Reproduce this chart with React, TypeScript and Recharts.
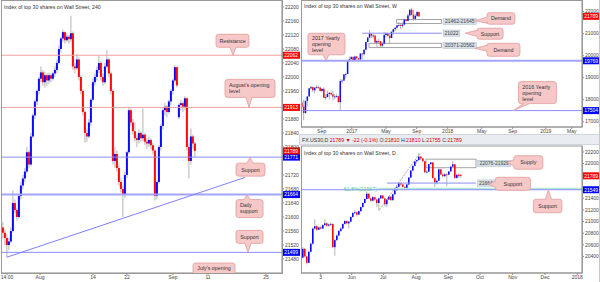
import React from 'react'
import {
  ComposedChart, Bar, XAxis, YAxis, ReferenceLine, ReferenceArea, ReferenceDot,
} from 'recharts'

const FONT = '"Liberation Sans", Arial, sans-serif'
const UP = '#0a0aff'
const DOWN = '#ff0a0a'
const WICK = '#a0a0a0'
const RED_LINE = '#f0a0a0'
const BLUE_LINE = '#8c8cff'
const BLUE_THICK = '#a4a4ff'
const TAG_RED = '#ff0000'
const TAG_BLUE = '#0000ff'
const AXIS = '#8a8a8a'
const TEXT = '#333'

// ---------- 240 min panel: [open, high, low, close] ----------
const h4Candles = [
  [21570, 21585, 21540, 21555], [21555, 21565, 21520, 21540], [21540, 21550, 21485, 21520],
  [21520, 21540, 21505, 21530], [21530, 21570, 21525, 21560], [21560, 21676, 21555, 21640],
  [21640, 21650, 21610, 21620], [21620, 21625, 21590, 21600], [21600, 21665, 21595, 21660],
  [21660, 21700, 21650, 21690], [21690, 21720, 21680, 21710], [21710, 21740, 21700, 21730],
  [21730, 21800, 21725, 21785], [21785, 21790, 21740, 21750], [21750, 21840, 21745, 21830],
  [21830, 21895, 21825, 21890], [21890, 21935, 21880, 21930], [21930, 21965, 21920, 21960],
  [21960, 22000, 21950, 21995], [21995, 22030, 21985, 22013], [22013, 22020, 21975, 21985],
  [21985, 22015, 21970, 22005], [22005, 22010, 21975, 21990], [21990, 22012, 21980, 22005],
  [22005, 22010, 21985, 21995], [21995, 22015, 21990, 22010], [22010, 22030, 22000, 22020],
  [22020, 22050, 22010, 22040], [22040, 22090, 22035, 22080], [22080, 22115, 22070, 22110],
  [22110, 22135, 22100, 22128], [22128, 22130, 22095, 22105], [22105, 22125, 22100, 22115],
  [22115, 22120, 22095, 22108], [22108, 22175, 22100, 22125], [22125, 22130, 22020, 22030],
  [22030, 22040, 22010, 22025], [22025, 22065, 22020, 22050], [22050, 22055, 21990, 22000],
  [22000, 22005, 21950, 21960], [21960, 21965, 21890, 21900], [21900, 21905, 21813, 21840],
  [21840, 21850, 21815, 21830], [21830, 21880, 21825, 21870], [21870, 21940, 21860, 21935],
  [21935, 21995, 21930, 21985], [21985, 22010, 21975, 22000], [22000, 22030, 21990, 22020],
  [22020, 22062, 22010, 22040], [22040, 22045, 21990, 22000], [22000, 22010, 21975, 21985],
  [21985, 22040, 21980, 22030], [22030, 22076, 22025, 22050], [22050, 22055, 22000, 22010],
  [22010, 22015, 21950, 21960], [21960, 21965, 21750, 21760], [21760, 21800, 21740, 21780],
  [21780, 21790, 21730, 21740], [21740, 21750, 21690, 21700], [21700, 21710, 21670, 21680],
  [21680, 21690, 21600, 21665], [21665, 21730, 21655, 21720], [21720, 21790, 21710, 21785],
  [21785, 21915, 21780, 21905], [21905, 21910, 21860, 21870], [21870, 21880, 21835, 21845],
  [21845, 21870, 21815, 21825], [21825, 21835, 21800, 21820], [21820, 21850, 21810, 21840],
  [21840, 21845, 21815, 21825], [21825, 21910, 21815, 21835], [21835, 21840, 21805, 21815],
  [21815, 21825, 21795, 21810], [21810, 21830, 21800, 21820], [21820, 21825, 21795, 21805],
  [21805, 21812, 21780, 21790], [21790, 21795, 21647, 21660], [21660, 21705, 21650, 21700],
  [21700, 21805, 21695, 21800], [21800, 21865, 21790, 21860], [21860, 21910, 21850, 21905],
  [21905, 21925, 21890, 21915], [21915, 21920, 21885, 21900], [21900, 21935, 21895, 21930],
  [21930, 21965, 21920, 21960], [21960, 21995, 21950, 21990], [21990, 22033, 21985, 22028],
  [22028, 22030, 21970, 21976], [21885, 21925, 21880, 21920], [21920, 21935, 21905, 21925],
  [21925, 21930, 21900, 21915], [21915, 21945, 21905, 21939], [21939, 21942, 21790, 21800],
  [21800, 21810, 21710, 21760], [21760, 21853, 21750, 21830], [21830, 21835, 21795, 21810],
  [21810, 21815, 21770, 21789],
]
const h4TickPos = [2, 18.5, 45, 62, 85, 102.5, 131.5]
const h4TickLabels = ['14:00', 'Aug', '14', '22', 'Sep', '11', '25']
// labels hidden behind the price tags (21760, 21920) are left out, as on the reference
const h4PriceTicks = [
  21480, 21520, 21560, 21600, 21640, 21680, 21720, 21800, 21840,
  21880, 21960, 22000, 22040, 22080, 22120, 22160, 22200,
]

// ---------- weekly panel ----------
const weeklyCandles = [
  [17860, 17950, 17600, 17675], [17680, 18000, 17063, 17400], [17400, 17950, 17350, 17949],
  [17950, 18150, 17700, 18147], [18150, 18537, 18140, 18516], [18516, 18622, 18490, 18571],
  [18571, 18600, 18350, 18432], [18432, 18560, 18280, 18543], [18543, 18668, 18500, 18576],
  [18576, 18630, 18480, 18552], [18552, 18590, 18380, 18395], [18395, 18500, 18360, 18492],
  [18492, 18560, 18080, 18085], [18085, 18250, 17990, 18124], [18124, 18400, 18100, 18261],
  [18261, 18350, 18000, 18308], [18308, 18370, 18180, 18240], [18240, 18400, 17960, 18138],
  [18138, 18260, 18020, 18145], [18145, 18260, 18090, 18161], [18161, 18190, 17880, 17888],
  [17888, 18934, 17500, 18847], [18847, 18935, 18730, 18867], [18867, 19160, 18860, 19152],
  [19152, 19225, 18970, 19171], [19171, 19775, 19160, 19757], [19757, 19966, 19720, 19843],
  [19843, 19987, 19820, 19934], [19934, 19980, 19720, 19763], [19763, 19999, 19760, 19964],
  [19964, 19973, 19820, 19885], [19885, 19890, 19730, 19827], [19827, 20126, 19800, 20094],
  [20094, 20125, 19830, 20071], [20071, 20298, 20000, 20269], [20269, 20640, 20260, 20624],
  [20624, 20840, 20600, 20822], [20822, 21169, 20780, 21005], [21005, 21010, 20800, 20903],
  [20903, 21000, 20780, 20915], [20915, 20960, 20550, 20597], [20597, 20725, 20410, 20663],
  [20663, 20780, 20550, 20656], [20656, 20660, 20400, 20453], [20453, 20600, 20380, 20548],
  [20548, 21070, 20540, 20941], [20941, 21050, 20850, 21007], [21007, 21030, 20880, 20897],
  [20897, 21000, 20550, 20805], [20805, 21120, 20790, 21080], [21080, 21225, 20950, 21206],
  [21206, 21305, 21120, 21272], [21272, 21392, 21190, 21384], [21384, 21535, 21340, 21395],
  [21395, 21470, 21200, 21350], [21350, 21520, 21270, 21414], [21414, 21681, 21380, 21638],
  [21638, 21681, 21560, 21580], [21580, 21929, 21570, 21830], [21830, 22093, 21800, 22092],
  [22092, 22179, 21830, 21858], [21858, 22084, 21600, 21674], [21674, 21900, 21600, 21813],
  [21813, 22035, 21750, 21988], [21988, 21990, 21755, 21789],
]
const weeklyTickPos = [10.8, 27.2, 45.9, 62.7, 79.6, 98.2, 115.1, 133.2, 147.4]
const weeklyTickLabels = ['Sep', '2017', 'May', 'Sep', '2018', 'May', 'Sep', '2019', 'May']
const weeklyPriceTicks = [17000, 18000, 19000, 20000, 21000, 22000]

// ---------- daily panel ----------
const dailyCandles = [
  [20380, 20560, 20360, 20530], [20530, 20545, 20380, 20400], [20400, 20420, 20264, 20290],
  [20290, 20500, 20280, 20480], [20480, 20640, 20470, 20620], [20620, 20900, 20600, 20880],
  [20880, 21040, 20860, 20920], [20920, 20940, 20840, 20860], [20860, 20920, 20850, 20900],
  [20900, 20930, 20860, 20880], [20880, 20960, 20870, 20940], [20940, 21040, 20920, 20970],
  [20970, 20990, 20900, 20930], [20930, 20970, 20910, 20950], [20950, 20990, 20930, 20960],
  [20960, 20965, 20540, 20560], [20560, 20700, 20410, 20680], [20680, 20780, 20670, 20760],
  [20760, 20850, 20750, 20840], [20840, 20900, 20820, 20880], [20880, 20970, 20870, 20960],
  [20960, 21030, 20950, 21010], [21010, 21020, 20950, 20970], [20970, 21010, 20880, 21000],
  [21000, 21090, 20990, 21080], [21080, 21160, 21070, 21150], [21150, 21200, 21130, 21160],
  [21160, 21170, 21090, 21120], [21120, 21190, 21110, 21180], [21180, 21260, 21170, 21250],
  [21250, 21330, 21240, 21320], [21320, 21400, 21310, 21390], [21390, 21520, 21380, 21480],
  [21480, 21490, 21390, 21400], [21400, 21420, 21340, 21360], [21360, 21440, 21350, 21420],
  [21420, 21430, 21360, 21380], [21380, 21400, 21250, 21320], [21320, 21410, 21195, 21400],
  [21400, 21460, 21390, 21450], [21450, 21460, 21390, 21400], [21400, 21410, 21260, 21300],
  [21300, 21390, 21250, 21380], [21380, 21440, 21370, 21430], [21430, 21440, 21360, 21370],
  [21370, 21480, 21360, 21470], [21470, 21550, 21460, 21540], [21540, 21610, 21530, 21600],
  [21600, 21680, 21590, 21660], [21660, 21670, 21620, 21640], [21640, 21650, 21590, 21600],
  [21600, 21610, 21540, 21560], [21560, 21650, 21550, 21640], [21640, 21770, 21630, 21760],
  [21760, 21890, 21750, 21880], [21880, 21970, 21870, 21960], [21960, 22050, 21950, 22040],
  [22040, 22070, 22000, 22060], [22060, 22179, 22050, 22120], [22120, 22130, 22060, 22090],
  [22090, 22100, 22020, 22040], [22040, 22045, 21840, 21850], [21850, 21890, 21830, 21860],
  [21860, 22000, 21850, 21990], [21990, 22030, 21980, 22020], [22020, 22025, 21740, 21750],
  [21750, 21760, 21600, 21675], [21675, 21720, 21640, 21705], [21705, 21920, 21700, 21900],
  [21900, 21910, 21800, 21812], [21812, 21830, 21760, 21783], [21783, 21840, 21770, 21813],
  [21813, 21830, 21610, 21808], [21808, 21870, 21800, 21865], [21865, 21955, 21860, 21948],
  [21948, 22040, 21940, 21987], [21987, 21990, 21740, 21753], [21753, 21820, 21740, 21807],
  [21807, 21830, 21755, 21784], [21810, 21810, 21755, 21789],
]
const dailyTickPos = [8.85, 24.35, 40.15, 56.5, 72.65, 88.5, 104.85, 121, 137.15]
const dailyTickLabels = ['3', 'Jun', 'Jul', 'Aug', 'Sep', 'Oct', 'Nov', 'Dec', '2018']
// 21600 and 21800 sit behind the price tags on the reference
const dailyPriceTicks = [20400, 20600, 20800, 21000, 21200, 21400, 22000, 22200]

// ---------- annotations ----------
type Callout = {
  x: number; y: number; lines: string[]
  box: number[]; side: 'up' | 'down' | 'left' | 'open'
  align?: 'start' | 'middle'; base?: number
}

const h4Callouts: Callout[] = [
  { x: 115, y: 22062, lines: ['Resistance'], box: [-17, -21, 16, -8], side: 'down' },
  { x: 123, y: 21913, lines: ["August's opening", 'level'], box: [-24, -28, 26, -10], side: 'down', align: 'start' },
  { x: 123.5, y: 21771, lines: ['Support'], box: [-14, 6, 15, 19], side: 'up' },
  { x: 122, y: 21664, lines: ['Daily', 'support'], box: [-11, 5, 16, 23], side: 'up', align: 'start' },
  { x: 122.5, y: 21499, lines: ['Support'], box: [-12, -22, 15, -9], side: 'down' },
  { x: 105.5, y: 21440, lines: ["July's opening"], box: [-21, -10, 21, 0], side: 'open' },
]
const weeklyCallouts: Callout[] = [
  { x: 94.5, y: 21591, lines: ['Demand'], box: [12, -8, 40, 3.5], side: 'left' },
  { x: 89.1, y: 21022, lines: ['Support'], box: [12, -5, 38, 6], side: 'left' },
  { x: 94.5, y: 20336, lines: ['Demand'], box: [12, -5, 45, 8], side: 'left' },
  { x: 13.1, y: 19769, lines: ['2017 Yearly', 'opening', 'level'], box: [-18, -27.5, 19, -6], side: 'down', align: 'start' },
  { x: 115.5, y: 17504, lines: ['2016 Yearly', 'opening', 'level'], box: [5, -29, 43, -7], side: 'down', align: 'start', base: 8 },
]
const dailyCallouts: Callout[] = [
  { x: 101.9, y: 22015, lines: ['Supply'], box: [7, -7, 36, 6.5], side: 'left' },
  { x: 92.7, y: 21643, lines: ['Support'], box: [7, -7, 42, 6], side: 'left' },
  { x: 122.7, y: 21549, lines: ['Support'], box: [-15, 9.5, 13.5, 23], side: 'up' },
]

const toRows = (candles: number[][]) =>
  candles.map(([o, h, l, c], i) => ({ i, o, h, l, c, range: [l, h] }))

const h4Rows = toRows(h4Candles)
const weeklyRows = toRows(weeklyCandles)
const dailyRows = toRows(dailyCandles)

const TICK = { fontSize: 5, fill: '#444', fontFamily: FONT }

function candleShape(bodyWidth: number) {
  return (p: any) => {
    const { x, y, width, height, payload } = p
    if (!payload) return <g />
    const { o, h, l, c } = payload
    const top = Math.min(y, y + height)
    const span = Math.abs(height)
    const py = (v: number) => (h === l ? top : top + ((h - v) / (h - l)) * span)
    const cx = x + width / 2
    const bTop = py(Math.max(o, c))
    const bBot = py(Math.min(o, c))
    return (
      <g>
        <line x1={cx} x2={cx} y1={top} y2={top + span} stroke={WICK} strokeWidth={0.8} />
        <rect x={cx - bodyWidth / 2} y={bTop} width={bodyWidth}
          height={Math.max(bBot - bTop, 0.8)} fill={c >= o ? UP : DOWN} />
      </g>
    )
  }
}

function priceTag(text: string, color: string) {
  return (p: any) => {
    const vb = p.viewBox
    const x = vb.x + vb.width
    const y = vb.y
    return (
      <g>
        <rect x={x + 0.5} y={y - 3.5} width={17.5} height={7} fill={color} />
        <text x={x + 9.2} y={y + 1.8} textAnchor="middle" fontSize={5} fill="#fff"
          fontFamily={FONT}>{text}</text>
      </g>
    )
  }
}

function sideTag(text: string) {
  return (p: any) => {
    const vb = p.viewBox
    const x = vb.x + vb.width + 1.5
    const y = vb.y + vb.height / 2
    const w = text.length * 2.75 + 3
    return (
      <g>
        <rect x={x} y={y - 3.2} width={w} height={6.4} fill="#d6dfe9" stroke="#b4c2d0" strokeWidth={0.5} />
        <text x={x + w / 2} y={y + 1.8} textAnchor="middle" fontSize={5} fill="#444"
          fontFamily={FONT}>{text}</text>
      </g>
    )
  }
}

const clamp = (v: number, a: number, b: number) => Math.max(a, Math.min(b, v))

function calloutShape(co: Callout) {
  return (p: any) => {
    const tx = p.cx
    const ty = p.cy
    const [dx1, dy1, dx2, dy2] = co.box
    const L = tx + dx1, T = ty + dy1, R = tx + dx2, B = ty + dy2
    const r = 2.5, w = 3
    let d: string
    if (co.side === 'open') {
      d = `M${L},${B} V${T + r} Q${L},${T} ${L + r},${T} H${R - r} Q${R},${T} ${R},${T + r} V${B}`
    } else {
      const bx = co.base != null ? L + co.base : clamp(tx, L + 5, R - 5)
      const by = clamp(ty, T + 4, B - 4)
      d = `M${L + r},${T}`
      if (co.side === 'up') d += ` H${bx - w} L${tx},${ty} L${bx + w},${T}`
      d += ` H${R - r} Q${R},${T} ${R},${T + r} V${B - r} Q${R},${B} ${R - r},${B}`
      if (co.side === 'down') d += ` H${bx + w} L${tx},${ty} L${bx - w},${B}`
      d += ` H${L + r} Q${L},${B} ${L},${B - r}`
      if (co.side === 'left') d += ` V${by + w} L${tx},${ty} L${L},${by - w}`
      d += ` V${T + r} Q${L},${T} ${L + r},${T} Z`
    }
    const lh = 6
    const n = co.lines.length
    const midY = co.side === 'open' ? T + 5 : (T + B) / 2
    const y0 = midY - ((n - 1) * lh) / 2 + 1.9
    const start = co.align === 'start'
    return (
      <g>
        <path d={d} fill="#f6c8c8" stroke="#e29a9a" strokeWidth={0.8} />
        {co.lines.map((s, k) => (
          <text key={k} x={start ? L + 4 : (L + R) / 2} y={y0 + k * lh}
            textAnchor={start ? 'start' : 'middle'} fontSize={5.3} fill={TEXT}
            fontFamily={FONT}>{s}</text>
        ))}
      </g>
    )
  }
}

function renderCallouts(list: Callout[], prefix: string) {
  return list.map((co, k) => (
    <ReferenceDot key={prefix + k} x={co.x} y={co.y} r={1} ifOverflow="visible"
      shape={calloutShape(co)} />
  ))
}

const fmt = (pos: number[], labels: string[]) => (v: number) => labels[pos.indexOf(v)] ?? ''

export default function App() {
  return (
    <div style={{ position: 'fixed', left: 0, top: 0, width: 600, height: 282, background: '#fff', overflow: 'hidden' }}>
      {/* 240 min */}
      <div style={{ position: 'absolute', left: 0, top: 0 }}>
        <ComposedChart width={300} height={282} data={h4Rows} margin={{ top: 1, right: 0, bottom: 0, left: 1 }}>
          <XAxis type="number" dataKey="i" domain={[-1, 139.5]} allowDataOverflow ticks={h4TickPos}
            interval={0} tickFormatter={fmt(h4TickPos, h4TickLabels)} height={9} tickSize={2}
            tickMargin={0} tick={TICK} axisLine={{ stroke: AXIS }} tickLine={{ stroke: AXIS }} />
          <YAxis orientation="right" type="number" width={18} domain={[21440, 22217]} allowDataOverflow
            ticks={h4PriceTicks} interval={0} tickSize={2} tickMargin={1} tick={TICK}
            axisLine={{ stroke: AXIS }} tickLine={{ stroke: AXIS }} />
          <ReferenceLine y={22062} stroke={RED_LINE} label={priceTag('22062', TAG_RED)} />
          <ReferenceLine y={21913} stroke={RED_LINE} label={priceTag('21913', TAG_RED)} />
          <ReferenceLine y={21771} stroke={BLUE_LINE} label={priceTag('21771', TAG_BLUE)} />
          <ReferenceLine y={21664} stroke={BLUE_THICK} strokeWidth={2} label={priceTag('21664', TAG_BLUE)} />
          <ReferenceLine y={21499} stroke={BLUE_LINE} label={priceTag('21499', TAG_BLUE)} />
          <ReferenceLine segment={[{ x: 1.85, y: 21485 }, { x: 121, y: 21713 }]} stroke="#7f7fff" ifOverflow="visible" />
          <Bar dataKey="range" isAnimationActive={false} barSize={2} shape={candleShape(2)} />
          <ReferenceLine y={21789} stroke="none" label={priceTag('21789', TAG_RED)} />
          {renderCallouts(h4Callouts, 'h4')}
        </ComposedChart>
      </div>

      {/* weekly */}
      <div style={{ position: 'absolute', left: 300, top: 0 }}>
        <ComposedChart width={300} height={135} data={weeklyRows} margin={{ top: 1, right: 0, bottom: 0, left: 1 }}>
          <XAxis type="number" dataKey="i" domain={[-0.55, 153]} allowDataOverflow ticks={weeklyTickPos}
            interval={0} tickFormatter={fmt(weeklyTickPos, weeklyTickLabels)} height={8} tickSize={2}
            tickMargin={0} tick={TICK} axisLine={{ stroke: AXIS }} tickLine={{ stroke: AXIS }} />
          <YAxis orientation="right" type="number" width={18} domain={[16759, 22486]} allowDataOverflow
            ticks={weeklyPriceTicks} interval={0} tickSize={2} tickMargin={1} tick={TICK}
            axisLine={{ stroke: AXIS }} tickLine={{ stroke: AXIS }} />
          <ReferenceLine y={19769} stroke={BLUE_THICK} strokeWidth={2} label={priceTag('19769', TAG_BLUE)} />
          <ReferenceLine y={17504} stroke={BLUE_LINE} label={priceTag('17504', TAG_BLUE)} />
          <ReferenceArea x1={51.7} x2={76.3} y1={21462} y2={21645} fill="#fff" fillOpacity={1}
            stroke="#8c8c8c" strokeWidth={0.8} ifOverflow="visible" label={sideTag('21462-21645')} />
          <ReferenceArea x1={36.6} x2={76.3} y1={20371} y2={20562} fill="#fff" fillOpacity={1}
            stroke="#8c8c8c" strokeWidth={0.8} ifOverflow="visible" label={sideTag('20371-20562')} />
          <ReferenceLine segment={[{ x: 32.8, y: 21022 }, { x: 76.3, y: 21022 }]} stroke={BLUE_LINE}
            ifOverflow="visible" label={sideTag('21022')} />
          <Bar dataKey="range" isAnimationActive={false} barSize={1.5} shape={candleShape(1.5)} />
          <ReferenceLine y={21789} stroke="none" label={priceTag('21789', TAG_RED)} />
          {renderCallouts(weeklyCallouts, 'w')}
        </ComposedChart>
      </div>

      {/* daily */}
      <div style={{ position: 'absolute', left: 300, top: 145 }}>
        <ComposedChart width={300} height={137} data={dailyRows} margin={{ top: 1, right: 0, bottom: 0, left: 1 }}>
          <XAxis type="number" dataKey="i" domain={[-1, 139.5]} allowDataOverflow ticks={dailyTickPos}
            interval={0} tickFormatter={fmt(dailyTickPos, dailyTickLabels)} height={9} tickSize={2}
            tickMargin={0} tick={TICK} axisLine={{ stroke: AXIS }} tickLine={{ stroke: AXIS }} />
          <YAxis orientation="right" type="number" width={18} domain={[20114, 22303]} allowDataOverflow
            ticks={dailyPriceTicks} interval={0} tickSize={2} tickMargin={1} tick={TICK}
            axisLine={{ stroke: AXIS }} tickLine={{ stroke: AXIS }} />
          <ReferenceLine segment={[{ x: 37.5, y: 21567 }, { x: 139.5, y: 21567 }]} stroke="#b4ead2"
            strokeWidth={2} ifOverflow="visible" />
          <ReferenceLine y={21549} stroke={BLUE_LINE} label={priceTag('21549', TAG_BLUE)} />
          <ReferenceArea x1={61.5} x2={86.5} y1={21929} y2={22076} fill="#fff" fillOpacity={1}
            stroke="#8c8c8c" strokeWidth={0.8} ifOverflow="visible" label={sideTag('22076-21929')} />
          <ReferenceLine segment={[{ x: 42, y: 21664 }, { x: 86.5, y: 21664 }]} stroke={BLUE_LINE}
            ifOverflow="visible" label={sideTag('21664')} />
          <ReferenceLine segment={[{ x: 38, y: 21195 }, { x: 58.5, y: 22179 }]} stroke="#909090"
            strokeDasharray="1 1" ifOverflow="visible" />
          <ReferenceDot x={37.5} y={21567} r={1} ifOverflow="visible"
            shape={(p: any) => (
              <text x={p.cx - 1} y={p.cy + 1.9} textAnchor="end" fontSize={5.3} fill="#5cc79a"
                fontFamily={FONT}>61.8%(21567)</text>
            )} />
          <Bar dataKey="range" isAnimationActive={false} barSize={1.6} shape={candleShape(1.6)} />
          <ReferenceLine y={21789} stroke="none" label={priceTag('21789', TAG_RED)} />
          {renderCallouts(dailyCallouts, 'd')}
        </ComposedChart>
      </div>

      {/* frames, titles, header strip */}
      <svg width={600} height={282} style={{ position: 'absolute', left: 0, top: 0, pointerEvents: 'none' }}>
        <rect x={1.5} y={0.5} width={281} height={273} fill="none" stroke="#9a9a9a" />
        <rect x={301.5} y={0.5} width={281} height={126.5} fill="none" stroke="#9a9a9a" />
        <rect x={301.5} y={146} width={281} height={127} fill="none" stroke="#9a9a9a" />
        <rect x={299.5} y={134.5} width={300} height={10} fill="#e9edf1" stroke="#d0d6dc" />
        <line x1={599.5} y1={0} x2={599.5} y2={282} stroke="#c8c8c8" />
        <text x={4} y={8.6} fontSize={5.2} fill={TEXT} fontFamily={FONT}>Index of top 30 shares on Wall Street, 240</text>
        <text x={304} y={8} fontSize={5.2} fill={TEXT} fontFamily={FONT}>Index of top 30 shares on Wall Street, W</text>
        <text x={304} y={155} fontSize={5.2} fill={TEXT} fontFamily={FONT}>Index of top 30 shares on Wall Street, D</text>
        <text x={302} y={141.5} fontSize={5.2} fill={TEXT} fontFamily={FONT}>
          FX.US30,D <tspan fill="#d00">21789</tspan><tspan fill="#d00"> ▼ -22 (-0.1%)</tspan> O:<tspan fill="#d00">21810</tspan> H:<tspan fill="#d00">21810</tspan> L:<tspan fill="#d00">21755</tspan> C:<tspan fill="#d00">21789</tspan>
        </text>
      </svg>
    </div>
  )
}
